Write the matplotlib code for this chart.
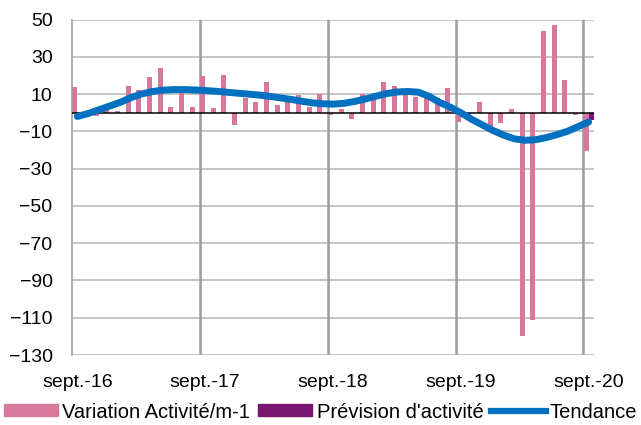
import numpy as np
import matplotlib
matplotlib.use("Agg")
import matplotlib.pyplot as plt
from matplotlib.patches import Patch
from matplotlib.lines import Line2D

plt.rcParams['font.family'] = ['Liberation Sans', 'DejaVu Sans']

# monthly data, sept-16 .. sept-20 (49 months)
variation = [14, -1, -2, 2, 1, 14.5, 12.3, 19, 24, 3,
             11, 3.2, 19.5, 2.3, 20, -6.5, 7.7, 6, 16.3, 4,
             6, 9.3, 3, 10.2, -1.2, 2.1, -3.4, 10, 9, 16.4,
             14.5, 12, 8.2, 9, 8, 13.2, -4.8, -2, 5.5, -9,
             -5.7, 2.2, -120, -111, 43.8, 47, 17.3, -1.3, -20.5]
prevision = [np.nan] * 48 + [-4]
tendance = [-2, -0.5, 1.5, 3.5, 5.5, 8, 10, 11.3, 12.1, 12.4,
            12.4, 12.2, 11.9, 11.5, 11, 10.5, 10, 9.5, 8.8, 8,
            7.2, 6.2, 5.3, 4.8, 4.6, 5, 6, 7.3, 8.8, 10.2,
            11.1, 11.4, 11, 8.8, 5.5, 3, 0, -3.5, -6.5, -9.5,
            -12, -14, -14.8, -14.5, -13.4, -11.8, -10, -7.5, -5]
tick_labels = ['sept.-16', 'sept.-17', 'sept.-18', 'sept.-19', 'sept.-20']

pink = '#D6779B'
purple = '#7B1473'
blue = '#0070C0'

x = np.arange(len(variation))

fig = plt.figure(figsize=(6.41, 4.25), dpi=100)
ax = fig.add_axes([72/641, 1-355/425, (594-72)/641, (355-19.5)/425])

# grid
for yv in range(-130, 51, 20):
    ax.axhline(yv, color='#B4B4B4', lw=1.1, zorder=0)
for xv in [11.5, 23.5, 35.5, 47.5]:
    ax.axvline(xv, color='#9A9A9A', lw=1.8, zorder=0)

w = 0.47
ax.bar(x - w/2, variation, width=w, color=pink, zorder=2)
ax.bar(x + w/2, prevision, width=w, color=purple, zorder=2)
ax.axhline(0, color='black', lw=1.1, zorder=3)
ax.plot(x, tendance, color=blue, lw=5, solid_capstyle='round',
        solid_joinstyle='round', zorder=4)

ax.set_xlim(-0.5, 48.5)
ax.set_ylim(-130, 50)
ax.set_yticks(range(-130, 51, 20))
ax.set_xticks([0, 12, 24, 36, 48])
ax.set_xticklabels(tick_labels)
ax.tick_params(axis='both', length=0, labelsize=14)
ax.tick_params(axis='y', pad=14)
ax.tick_params(axis='x', pad=14)

for s in ['top', 'right', 'bottom']:
    ax.spines[s].set_visible(False)
ax.spines['left'].set_color('#A0A0A0')
ax.spines['left'].set_linewidth(1.2)

handles = [Patch(color=pink), Patch(color=purple), Line2D([], [], color=blue, lw=4.5)]
labels = ['Variation Activité/m-1', "Prévision d'activité", 'Tendance']
fig.legend(handles, labels, loc='center', bbox_to_anchor=(0.5, 1-412/425),
           ncol=3, frameon=False, fontsize=14.5, handlelength=2.7,
           handleheight=0.55, handletextpad=0.2, columnspacing=0.4,
           borderpad=0, borderaxespad=0)

fig.savefig('out.png', dpi=100)
